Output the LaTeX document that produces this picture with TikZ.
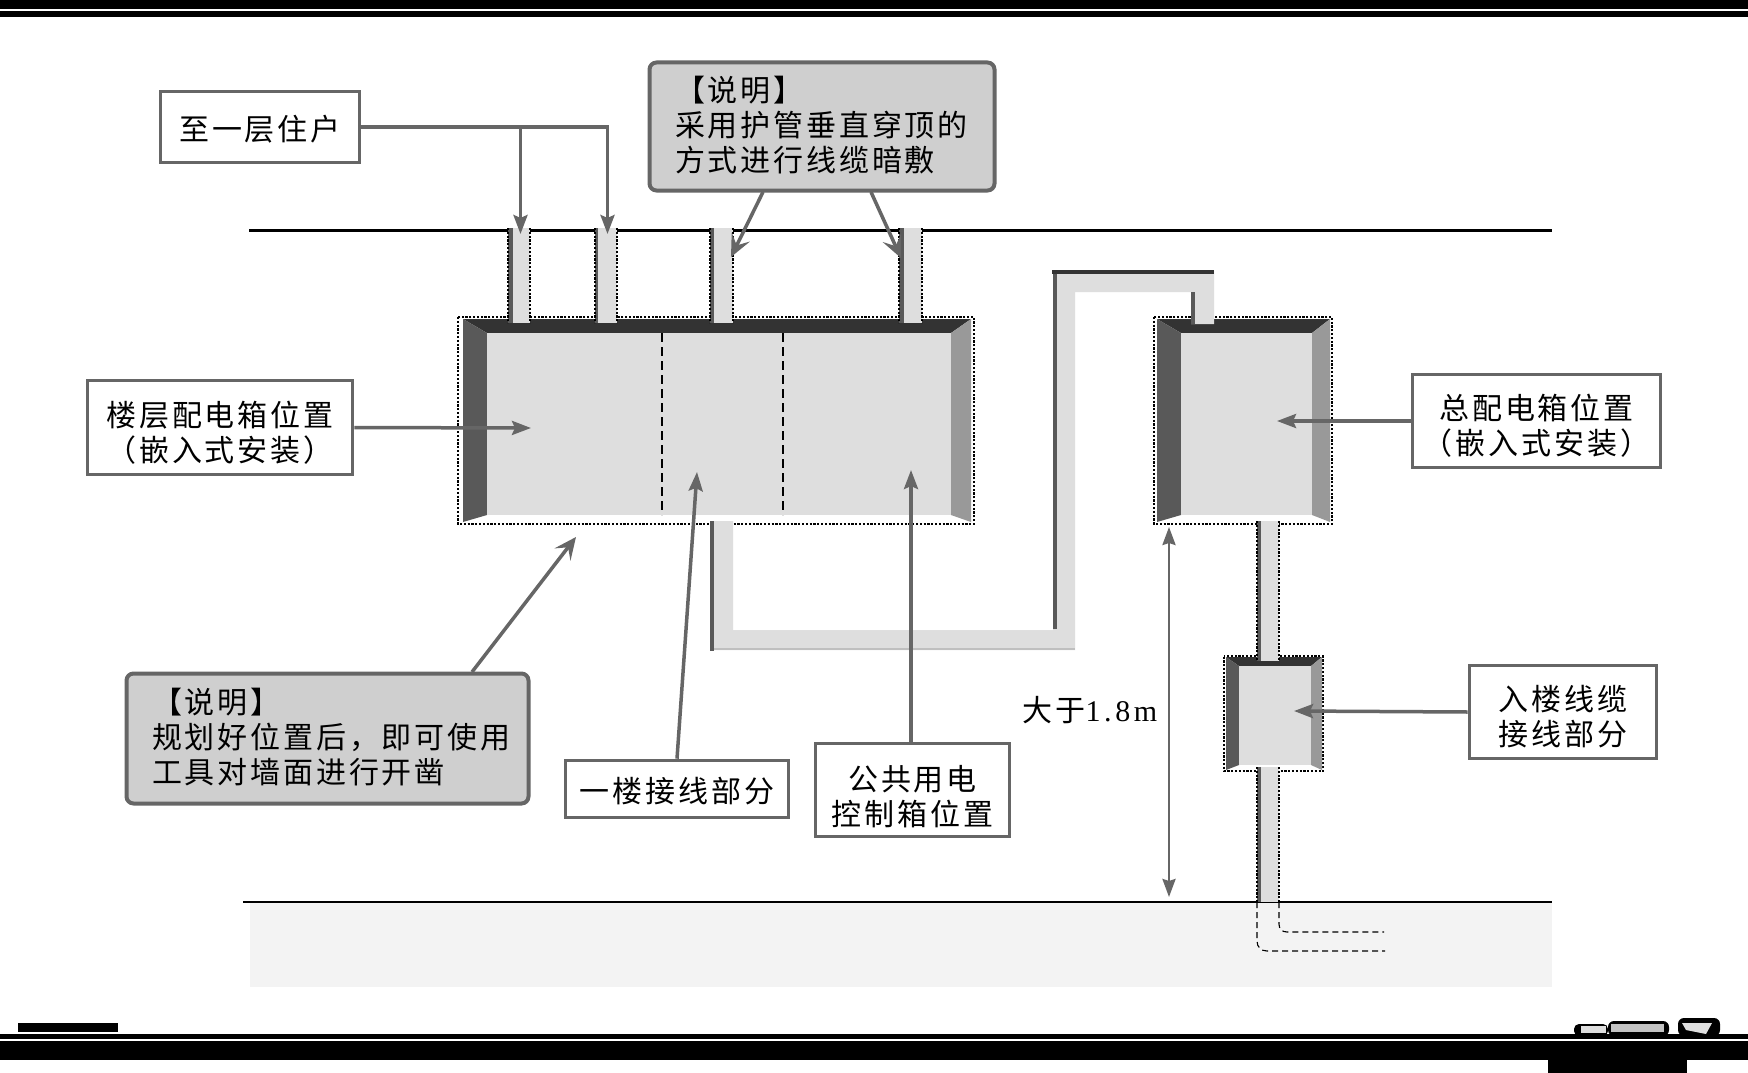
\documentclass[tikz,border=0pt]{standalone}
\usepackage{fontspec}
\usetikzlibrary{arrows.meta}
\setmainfont{Liberation Serif}
\newfontfamily\cjk[LetterSpace=9.5]{Noto Sans CJK SC}
\newfontfamily\latn[LetterSpace=12]{Liberation Serif}
\definecolor{arrowgray}{HTML}{666666}
\definecolor{pipegray}{HTML}{DEDEDE}
\definecolor{noteg}{HTML}{CFCFCF}
\definecolor{darkstrip}{HTML}{595959}
\definecolor{topdark}{HTML}{333333}
\definecolor{rightg}{HTML}{999999}
\definecolor{groundg}{HTML}{F3F3F3}
\newcommand{\lowr}[2]{\raisebox{-#1pt}[\height][\depth]{#2}}
\newcommand{\pipepart}[5]{%
  \fill[pipegray] (#1,#3) rectangle (#2,#4);
  \fill[darkstrip] (#1,#3) rectangle ({#1+#5},#4);
  \draw[dotline] (#1,#3) -- (#1,#4);
  \draw[dotline] (#2,#3) -- (#2,#4);
}
\newcommand{\elecbox}[8]{%
  \fill[white] (#1,#2) rectangle (#3,#4);
  \fill[topdark] (#1,#2) -- (#3,#2) -- (#7,#6) -- (#5,#6) -- cycle;
  \fill[darkstrip] (#1,#2) -- (#5,#6) -- (#5,#8) -- (#1,#4) -- cycle;
  \fill[rightg] (#3,#2) -- (#7,#6) -- (#7,#8) -- (#3,#4) -- cycle;
  \fill[pipegray] (#5,#6) rectangle (#7,#8);
}
\tikzset{
  x=1pt,y=-1pt,
  dotline/.style={black,line width=2.8pt,dash pattern=on 2.2pt off 1.6pt},
  label/.style={draw=arrowgray,line width=3.6pt,fill=white,font=\cjk\fontsize{30}{35}\selectfont,align=center,inner sep=0pt,text=black},
  note/.style={draw=arrowgray,line width=4pt,fill=noteg,rounded corners=7pt,font=\cjk\fontsize{30}{35}\selectfont,align=left,inner ysep=0pt,text=black},
  conn/.style={draw=arrowgray,line width=3.5pt,-{Stealth[length=19pt,width=14pt,inset=3pt]}},
  barb/.style={draw=arrowgray,line width=3.5pt,-{Stealth[length=22pt,width=20pt,inset=9pt]}},
  dim/.style={draw=arrowgray,line width=2.6pt,{Stealth[length=18pt,width=13pt,inset=2pt]}-{Stealth[length=18pt,width=13pt,inset=2pt]}},
  ruler/.style={black,line width=2.4pt},
  buried/.style={black,line width=1.1pt,dash pattern=on 6pt off 4pt},
}
\begin{document}
\begin{tikzpicture}
\useasboundingbox (0,0) rectangle (1748,1073);
\fill[white] (0,0) rectangle (1748,1073);
% page furniture
\fill[black] (0,0) rectangle (1748,9.3);
\fill[black] (0,10.7) rectangle (1748,17);
\fill[black] (18,1022.5) rectangle (118,1031.5);
\fill[black] (0,1033.5) rectangle (1748,1039);
\fill[black] (0,1041) rectangle (1748,1060);
\fill[black] (1548,1060) rectangle (1687,1073);
\fill[black,rounded corners=5pt] (1574,1024) rectangle (1608,1036);
\fill[black,rounded corners=6pt] (1608,1021) rectangle (1669,1036);
\fill[black,rounded corners=6pt] (1678,1018) rectangle (1720,1036);
\fill[pipegray] (1581,1026) rectangle (1606,1033);
\fill[pipegray!70!gray] (1611,1024) rectangle (1664,1032);
\fill[pipegray] (1682,1023) -- (1712,1023) -- (1706,1034) -- (1686,1030) -- cycle;
% ground and ceiling
\fill[groundg] (250,903) rectangle (1552,987);
\draw[ruler] (249,230.5) -- (1552,230.5);
\draw[ruler] (243,902) -- (1552,902);
% boxes
\draw[dotline] (458,317) rectangle (974,524);
\elecbox{463}{319}{971}{522}{487}{333}{951}{515}
\draw[black,line width=1.4pt,dash pattern=on 9pt off 5pt] (662,333) -- (662,515);
\draw[black,line width=1.4pt,dash pattern=on 9pt off 5pt] (783,333) -- (783,515);
\draw[dotline] (1154,317) rectangle (1332,524);
\elecbox{1157}{319}{1330}{522}{1181}{333}{1312}{515}
\draw[dotline] (1224,656.5) rectangle (1323,771);
\elecbox{1226}{657}{1322}{770}{1239}{666}{1311}{765}
% top pipes
\pipepart{508}{530}{228}{323}{5}
\pipepart{595}{617}{228}{323}{3}
\pipepart{710}{733}{228}{323}{4}
\pipepart{899}{922}{228}{323}{5}
% long cable
\fill[pipegray] (710,521) -- (733,521) -- (733,630) -- (1053,630) -- (1053,271) -- (1214,271) -- (1214,324) -- (1191,324) -- (1191,292) -- (1075,292) -- (1075,650) -- (710,650) -- cycle;
\fill[darkstrip] (710,521) rectangle (714,651);
\fill[darkstrip] (1053,274) rectangle (1057,629);
\fill[darkstrip] (1191,292) rectangle (1195,324);
\fill[topdark] (1052,270) rectangle (1214,274);
\fill[gray!50] (714,648) rectangle (1075,650);
\fill[gray!25] (733,630) rectangle (1053,631);
% vertical cable
\pipepart{1257}{1279}{521}{661}{4}
\pipepart{1257}{1279}{767}{902}{4}
\draw[buried] (1257,902) -- (1257,941) .. controls (1257,947) and (1261,951) .. (1267,951) -- (1385,951);
\draw[buried] (1279,902) -- (1279,924) .. controls (1279,929) and (1282,932) .. (1287,932) -- (1384,932);
% labels
\node[label,minimum width=199pt,minimum height=71pt] (upper) at (260,127) {\lowr{2}{至一层住户}};
\node[note,minimum width=345pt,minimum height=128pt,text width=294pt,inner xsep=25.5pt] (noteTop) at (822,126.5) {\lowr{-1}{【说明】}\\\lowr{-1}{采用护管垂直穿顶的}\\\lowr{-1}{方式进行线缆暗敷}};
\node[label,minimum width=265pt,minimum height=94pt] (floor) at (220,427.5) {\lowr{5.5}{楼层配电箱位置}\\\lowr{5.5}{（嵌入式安装）}};
\node[label,minimum width=248pt,minimum height=93pt] (main) at (1536.5,421) {\lowr{5}{总配电箱位置}\\\lowr{5}{（嵌入式安装）}};
\node[label,minimum width=187pt,minimum height=93pt] (entry) at (1563,712) {\lowr{5}{入楼线缆}\\\lowr{5}{接线部分}};
\node[label,minimum width=194pt,minimum height=93pt] (pub) at (912.5,790) {\lowr{6.5}{公共用电}\\\lowr{6.5}{控制箱位置}};
\node[label,minimum width=223pt,minimum height=57pt] (first) at (677,789) {\lowr{2}{一楼接线部分}};
\node[note,minimum width=402pt,minimum height=130pt,text width=351pt,inner xsep=24.5pt] (noteLow) at (327.5,738.5) {\lowr{-1.5}{【说明】}\\\lowr{-1.5}{规划好位置后，即可使用}\\\lowr{-1.5}{工具对墙面进行开凿}};
\node[inner sep=0pt,font=\fontsize{30}{35}\selectfont] (height) at (1090,710) {{\cjk 大于}{\latn 1.8m}};
% free ends of the connectors
\coordinate (tipA) at (520.5,234);
\coordinate (tipB) at (607.5,234);
\coordinate (tipC) at (731,257);
\coordinate (tipD) at (901,258);
\coordinate (tipE) at (531,428);
\coordinate (tipF) at (1277,421);
\coordinate (tipG) at (1294,711);
\coordinate (tipH) at (911,470);
\coordinate (tipI) at (697,472);
\coordinate (tipJ) at (576,537);
\coordinate (dimTop) at (1169,527);
\coordinate (dimBot) at (1169,897);
\coordinate (noteTopL) at (763,192);
\coordinate (noteTopR) at (871,192);
\coordinate (noteLowT) at (472,672);
% connectors
\draw[conn] (tipA |- upper.east) -- (tipA);
\draw[conn] (upper.east) -| (tipB);
\draw[barb] (noteTopL) -- (tipC);
\draw[barb] (noteTopR) -- (tipD);
\draw[conn] (floor.east) -- (tipE);
\draw[conn] (main.west) -- (tipF);
\draw[conn] (entry.west) -- (tipG);
\draw[conn] (pub.north -| tipH) -- (tipH);
\draw[conn] (first.north) -- (tipI);
\draw[barb] (noteLowT) -- (tipJ);
\draw[dim] (dimTop) -- (dimBot);
\end{tikzpicture}
\end{document}
